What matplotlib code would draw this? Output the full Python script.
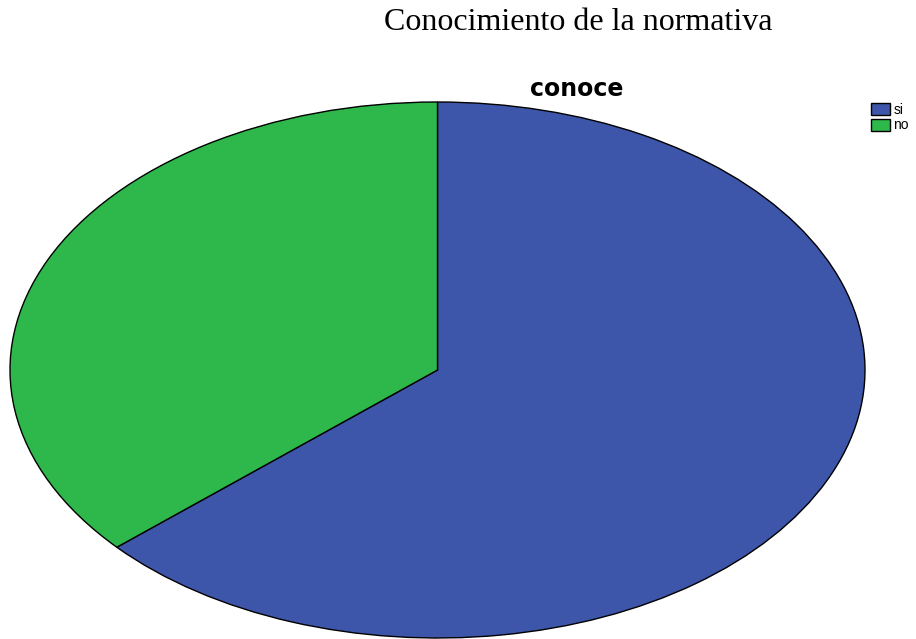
import matplotlib.pyplot as plt

labels = ["si", "no"]
values = [63.5, 36.5]
colors = ["#3d56a9", "#2eb84b"]

fig = plt.figure(figsize=(9.16, 6.39), dpi=100)
fig.patch.set_facecolor("white")

fig.text(578 / 916, 1 - 23 / 639, "Conocimiento de la normativa",
         family="Liberation Serif", fontsize=23, ha="center", va="center")
fig.text(577 / 916, 1 - 89 / 639, "conoce", family="DejaVu Sans",
         fontweight="bold", fontsize=17, ha="center", va="center")

# elliptical pie: axes box stretched, aspect left auto
ax = fig.add_axes([10 / 916, 1 / 639, 855 / 916, 536 / 639])
wedges, _ = ax.pie(values, colors=colors, startangle=90, counterclock=False,
                   wedgeprops=dict(edgecolor="black", linewidth=1.0))
ax.set_aspect("auto")
ax.set_xlim(-1, 1)
ax.set_ylim(-1, 1)
ax.axis("off")

leg = fig.legend(wedges, labels, loc="upper left",
                 bbox_to_anchor=(871 / 916, 1 - 103 / 639),
                 frameon=False, handlelength=1.35, handleheight=0.95,
                 handletextpad=0.25, labelspacing=0.1, borderaxespad=0,
                 borderpad=0, prop={"family": "Liberation Sans", "size": 10})

fig.savefig("out.png", dpi=100)
